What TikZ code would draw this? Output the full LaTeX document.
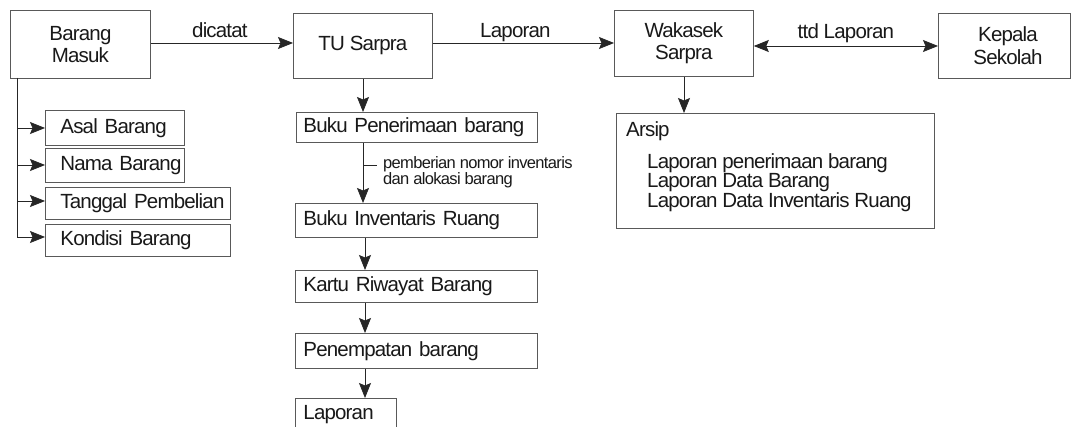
\documentclass[tikz,border=0pt]{standalone}
\usepackage{fontspec}
\setmainfont[LetterSpace=-4.0]{Liberation Sans}
\usetikzlibrary{arrows.meta}
\begin{document}
\begin{tikzpicture}[x=1pt,y=-1pt,
  base/.style={draw=black!65, line width=0.8pt, rectangle, anchor=north west, inner ysep=0pt,
    text=black!90, font=\fontsize{20.5}{22.5}\selectfont},
  cbox/.style={base, align=center, inner xsep=0pt},
  lbox/.style={base, align=left},
  tip/.tip={Stealth[length=15pt,width=12pt,inset=2.5pt]},
  arr/.style={draw=black!85, line width=0.8pt, -tip},
  lbl/.style={text=black!90, font=\fontsize{20.5}{22.5}\selectfont, inner sep=0pt},
  small/.style={text=black!90, font=\fontsize{16.5}{16}\selectfont, inner sep=0pt, align=left, anchor=west}]
\clip (0,0) rectangle (1072,427);
\fill[white] (0,0) rectangle (1072,427);
% top row
\node[cbox, minimum width=140pt, minimum height=68pt] (bm) at (10,10) {Barang\\Masuk};
\node[cbox, minimum width=139pt, minimum height=65pt] (tu) at (293,13) {TU Sarpra};
\node[cbox, minimum width=139pt, minimum height=66pt] (wk) at (614,10) {Wakasek\\Sarpra};
\node[cbox, minimum width=132pt, minimum height=65pt] (ks) at (938,13) {};
\node[lbl, align=center] (kst) at (1008,45.5) {Kepala\\Sekolah};
% left column
\node[lbox, inner xsep=15pt, text width=109pt, minimum height=35pt] (asal) at (45,110) {\mbox{Asal Barang}};
\node[lbox, inner xsep=15pt, text width=109pt, minimum height=34pt] (nama) at (45,148) {\mbox{Nama Barang}};
\node[lbox, inner xsep=15pt, text width=155pt, minimum height=32pt] (tgl) at (45,187) {\mbox{Tanggal Pembelian}};
\node[lbox, inner xsep=15pt, text width=155pt, minimum height=32pt] (kond) at (45,224) {\mbox{Kondisi Barang}};
% middle column
\node[lbox, inner xsep=7pt, text width=227pt, minimum height=30pt] (bpb) at (296,112) {\mbox{Buku Penerimaan barang}};
\node[lbox, inner xsep=8pt, text width=226pt, minimum height=34pt] (bir) at (295,203) {\mbox{Buku Inventaris Ruang}};
\node[lbox, inner xsep=8pt, text width=226pt, minimum height=32pt] (krb) at (295,270) {\mbox{Kartu Riwayat Barang}};
\node[lbox, inner xsep=8pt, text width=226pt, minimum height=35pt] (pb) at (295,333) {\mbox{Penempatan barang}};
\node[lbox, inner xsep=8pt, text width=85pt, minimum height=32pt] (lap) at (295,398) {\mbox{Laporan}};
% arsip
\node[base, minimum width=318pt, minimum height=115pt] (ars) at (616,113) {};
\node[lbl, anchor=north west] (arst) at (626,121) {Arsip};
\node[lbl, anchor=north west, align=left, font=\fontsize{20.5}{18}\selectfont] (arsl) at (647,153)
  {Laporan penerimaan barang\\Laporan Data Barang\\Laporan Data Inventaris Ruang};
% top arrows
\draw[arr] (bm.east |- 0,43) -- (tu.west |- 0,43) node[lbl, midway, anchor=base, yshift=5pt, xshift=-2pt] (l1) {dicatat};
\draw[arr] (tu.east |- 0,43) -- (wk.west |- 0,43) node[lbl, midway, anchor=base, yshift=5pt, xshift=-8pt] (l2) {Laporan};
\draw[arr, tip-tip] (wk.east |- 0,46) -- (ks.west |- 0,46) node[lbl, midway, anchor=base, yshift=7pt] (l3) {ttd Laporan};
\draw[arr] (wk.south -| 684,0) -- (ars.north -| 684,0);
% left column connectors
\coordinate (trunk) at (17,78);
\draw[draw=black!85, line width=0.8pt] (trunk) -- (17,237);
\draw[arr] (17,128) -- (asal.west |- 0,128);
\draw[arr] (17,165) -- (nama.west |- 0,165);
\draw[arr] (17,201) -- (tgl.west |- 0,201);
\draw[arr] (17,237) -- (kond.west |- 0,237);
% middle column connectors
\draw[arr] (tu.south -| 363,0) -- (bpb.north -| 363,0);
\draw[arr] (bpb.south -| 363,0) -- (bir.north -| 363,0);
\coordinate (lead) at (377,165);
\draw[draw=black!85, line width=0.8pt] (363,165) -- (lead);
\node[small] (note) at (383,172) {pemberian nomor inventaris\\dan alokasi barang};
\draw[arr] (bir.south -| 365,0) -- (krb.north -| 365,0);
\draw[arr] (krb.south -| 365,0) -- (pb.north -| 365,0);
\draw[arr] (pb.south -| 365,0) -- (lap.north -| 365,0);
\end{tikzpicture}
\end{document}
